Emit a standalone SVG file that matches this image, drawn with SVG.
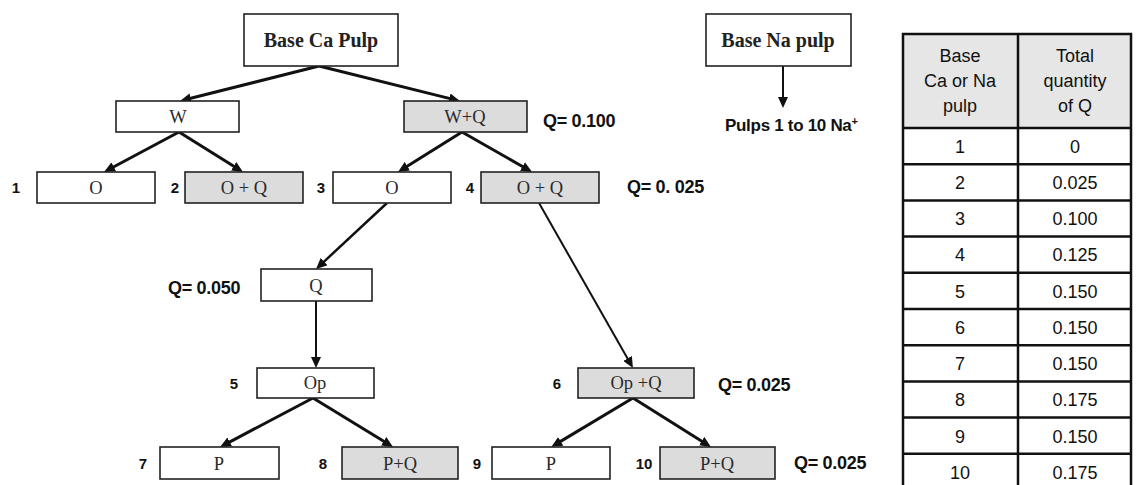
<svg xmlns="http://www.w3.org/2000/svg" width="1136" height="485" viewBox="0 0 1136 485">
<style>
.box{fill:#fff;stroke:#222;stroke-width:1.6}
.gray{fill:#dcdcdc}
.nt{font-family:"Liberation Serif","Times New Roman",serif;font-size:18.5px;fill:#2a2a2a;text-anchor:middle}
.bt{font-family:"Liberation Serif","Times New Roman",serif;font-size:20px;font-weight:bold;fill:#222;text-anchor:middle}
.num{font-family:"Liberation Sans",Arial,sans-serif;font-size:15px;font-weight:bold;fill:#111;text-anchor:middle}
.q{font-family:"Liberation Sans",Arial,sans-serif;font-size:18px;font-weight:bold;fill:#111;letter-spacing:-0.3px}
.arr{stroke:#111;stroke-width:3;fill:none;marker-end:url(#ah)}
.thin{stroke-width:2}
.tb{fill:none;stroke:#111;stroke-width:2.5}
.tl{stroke:#111;stroke-width:2.5}
.tt{font-family:"Liberation Sans",Arial,sans-serif;font-size:18px;fill:#111;text-anchor:middle}
</style>
<defs>
<marker id="ah" markerUnits="userSpaceOnUse" markerWidth="11" markerHeight="10" refX="3" refY="5" orient="auto">
<path d="M0,0 L11,5 L0,10 z" fill="#111"/>
</marker>
</defs>
<rect width="1136" height="485" fill="#fff"/>

<g id="connectors">
<line class="arr" x1="319" y1="66" x2="187.8" y2="99"/>
<line class="arr" x1="319" y1="66" x2="452.2" y2="99.1"/>
<line class="arr" x1="179" y1="132" x2="111.1" y2="168.2"/>
<line class="arr" x1="179" y1="132" x2="236.2" y2="167.8"/>
<line class="arr" x1="462" y1="132" x2="404.8" y2="167.8"/>
<line class="arr" x1="462" y1="132" x2="525.1" y2="168"/>
<line class="arr" style="stroke-width:2.5" x1="387" y1="203" x2="321.9" y2="263.6"/>
<line class="arr thin" x1="539" y1="203" x2="629" y2="361"/>
<line class="arr thin" x1="316" y1="301" x2="316" y2="360"/>
<line class="arr" x1="313" y1="398" x2="227.1" y2="443.3"/>
<line class="arr" x1="313" y1="398" x2="386.2" y2="442.8"/>
<line class="arr" x1="633" y1="398" x2="558.1" y2="442.9"/>
<line class="arr" x1="633" y1="398" x2="704.2" y2="442.7"/>
<line class="arr thin" x1="783" y1="66" x2="783" y2="100"/>
</g>

<g id="base-ca"><rect class="box" x="244" y="14" width="154" height="52"/><text class="bt" x="321" y="47">Base Ca Pulp</text></g>
<g id="base-na"><rect class="box" x="706" y="14" width="145" height="52"/><text class="bt" x="778" y="47">Base Na pulp</text></g>
<text class="q" x="725" y="131" style="font-size:17px">Pulps 1 to 10 Na<tspan dy="-6" font-size="11">+</tspan></text>

<g id="w"><rect class="box" x="116" y="101" width="123" height="31"/><text class="nt" x="178" y="123">W</text></g>
<g id="wq"><rect class="box gray" x="404" y="101" width="123" height="31"/><text class="nt" x="465" y="123">W+Q</text></g>
<text class="q" x="543" y="127">Q= 0.100</text>

<g id="n1"><text class="num" x="16" y="193">1</text><rect class="box" x="37" y="172" width="118" height="31"/><text class="nt" x="96" y="194">O</text></g>
<g id="n2"><text class="num" x="175" y="193">2</text><rect class="box gray" x="185" y="172" width="118" height="31"/><text class="nt" x="244" y="194">O + Q</text></g>
<g id="n3"><text class="num" x="321" y="193">3</text><rect class="box" x="333" y="172" width="118" height="31"/><text class="nt" x="392" y="194">O</text></g>
<g id="n4"><text class="num" x="470" y="193">4</text><rect class="box gray" x="481" y="172" width="118" height="31"/><text class="nt" x="540" y="194">O + Q</text></g>
<text class="q" x="627" y="193">Q= 0. 025</text>

<g id="q"><rect class="box" x="261" y="269" width="111" height="32"/><text class="nt" x="316" y="292">Q</text></g>
<text class="q" x="168" y="294">Q= 0.050</text>

<g id="n5"><text class="num" x="234" y="389">5</text><rect class="box" x="257" y="368" width="117" height="30"/><text class="nt" x="315" y="389">Op</text></g>
<g id="n6"><text class="num" x="557" y="389">6</text><rect class="box gray" x="578" y="368" width="116" height="30"/><text class="nt" x="636" y="389">Op +Q</text></g>
<text class="q" x="718" y="391">Q= 0.025</text>

<g id="n7"><text class="num" x="143" y="469">7</text><rect class="box" x="160" y="447" width="119" height="32"/><text class="nt" x="219" y="470">P</text></g>
<g id="n8"><text class="num" x="323" y="469">8</text><rect class="box gray" x="342" y="447" width="116" height="32"/><text class="nt" x="400" y="470">P+Q</text></g>
<g id="n9"><text class="num" x="477" y="469">9</text><rect class="box" x="492" y="447" width="118" height="32"/><text class="nt" x="551" y="470">P</text></g>
<g id="n10"><text class="num" x="644" y="469">10</text><rect class="box gray" x="660" y="447" width="115" height="32"/><text class="nt" x="717" y="470">P+Q</text></g>
<text class="q" x="794" y="469">Q= 0.025</text>

<g id="table">
<rect x="903" y="34" width="228" height="94" fill="#e6e6e6"/>
<rect class="tb" x="903" y="34" width="228" height="470"/>
<line class="tl" x1="1018" y1="34" x2="1018" y2="490"/>
<line class="tl" x1="903" y1="128" x2="1131" y2="128"/>
<line class="tl" x1="903" y1="164.2" x2="1131" y2="164.2"/>
<line class="tl" x1="903" y1="200.4" x2="1131" y2="200.4"/>
<line class="tl" x1="903" y1="236.6" x2="1131" y2="236.6"/>
<line class="tl" x1="903" y1="272.8" x2="1131" y2="272.8"/>
<line class="tl" x1="903" y1="309" x2="1131" y2="309"/>
<line class="tl" x1="903" y1="345.2" x2="1131" y2="345.2"/>
<line class="tl" x1="903" y1="381.4" x2="1131" y2="381.4"/>
<line class="tl" x1="903" y1="417.6" x2="1131" y2="417.6"/>
<line class="tl" x1="903" y1="453.8" x2="1131" y2="453.8"/>
<text class="tt" x="960" y="62">Base</text>
<text class="tt" x="960" y="87">Ca or Na</text>
<text class="tt" x="960" y="112">pulp</text>
<text class="tt" x="1075" y="62">Total</text>
<text class="tt" x="1075" y="87">quantity</text>
<text class="tt" x="1075" y="112">of Q</text>
<text class="tt" x="960" y="153">1</text><text class="tt" x="1075" y="153">0</text>
<text class="tt" x="960" y="189">2</text><text class="tt" x="1075" y="189">0.025</text>
<text class="tt" x="960" y="225">3</text><text class="tt" x="1075" y="225">0.100</text>
<text class="tt" x="960" y="261">4</text><text class="tt" x="1075" y="261">0.125</text>
<text class="tt" x="960" y="298">5</text><text class="tt" x="1075" y="298">0.150</text>
<text class="tt" x="960" y="334">6</text><text class="tt" x="1075" y="334">0.150</text>
<text class="tt" x="960" y="370">7</text><text class="tt" x="1075" y="370">0.150</text>
<text class="tt" x="960" y="406">8</text><text class="tt" x="1075" y="406">0.175</text>
<text class="tt" x="960" y="443">9</text><text class="tt" x="1075" y="443">0.150</text>
<text class="tt" x="960" y="479">10</text><text class="tt" x="1075" y="479">0.175</text>
</g>
</svg>
